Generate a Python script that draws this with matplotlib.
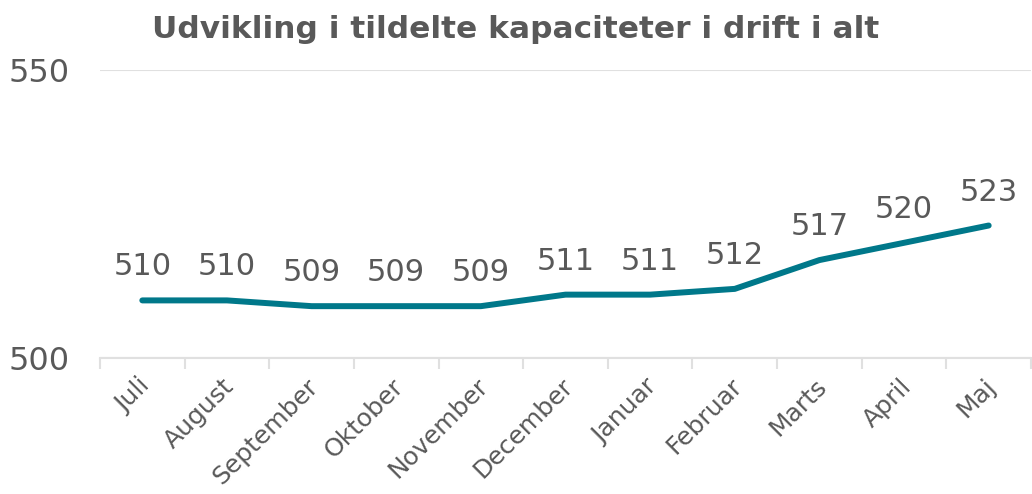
import matplotlib.pyplot as plt
from matplotlib.transforms import ScaledTranslation

months = ['Juli', 'August', 'September', 'Oktober', 'November', 'December',
          'Januar', 'Februar', 'Marts', 'April', 'Maj']
values = [510, 510, 509, 509, 509, 511, 511, 512, 517, 520, 523]
y_ticks = [500, 550]

text_col = '#595959'
grid_col = '#e0e0e0'
line_col = '#00788a'

fig = plt.figure(figsize=(10.32, 4.94), dpi=100)
ax = fig.add_axes([100 / 1032, 1 - 358 / 494, 931 / 1032, 288 / 494])

x = list(range(len(months)))
ax.plot(x, values, color=line_col, linewidth=4.3, solid_capstyle='round', zorder=3)
for xi, v in zip(x, values):
    ax.annotate(str(v), (xi, v), xytext=(0, 18), textcoords='offset points',
                ha='center', va='baseline', fontsize=22, color=text_col)

ax.set_xlim(-0.5, len(months) - 0.5)
ax.set_ylim(500, 550)
ax.set_yticks(y_ticks)
ax.set_yticklabels([str(t) for t in y_ticks])
ax.grid(axis='y', color=grid_col, linewidth=1.5, zorder=0)

# tick marks between categories
ax.set_xticks([i - 0.5 for i in range(len(months) + 1)])
ax.set_xticklabels([])
ax.tick_params(axis='x', length=8, width=1.5, color=grid_col)
ax.tick_params(axis='y', length=0, pad=22, labelsize=23, labelcolor=text_col)

# month labels, rotated, drawn at category centres
lbl_trans = ax.get_xaxis_transform() + ScaledTranslation(-0.05, -0.16, fig.dpi_scale_trans)
for xi, m in zip(x, months):
    ax.text(xi, 0, m, transform=lbl_trans, rotation=45, rotation_mode='anchor',
            ha='right', va='top', fontsize=18, color=text_col, clip_on=False)

for side in ['top', 'right', 'left']:
    ax.spines[side].set_visible(False)
ax.spines['bottom'].set_color(grid_col)
ax.spines['bottom'].set_linewidth(1.5)

fig.text(0.5, 1 - 29 / 494, 'Udvikling i tildelte kapaciteter i drift i alt',
         ha='center', va='center', fontsize=22.5, fontweight='bold', color=text_col)

fig.savefig('out.png', dpi=100)
